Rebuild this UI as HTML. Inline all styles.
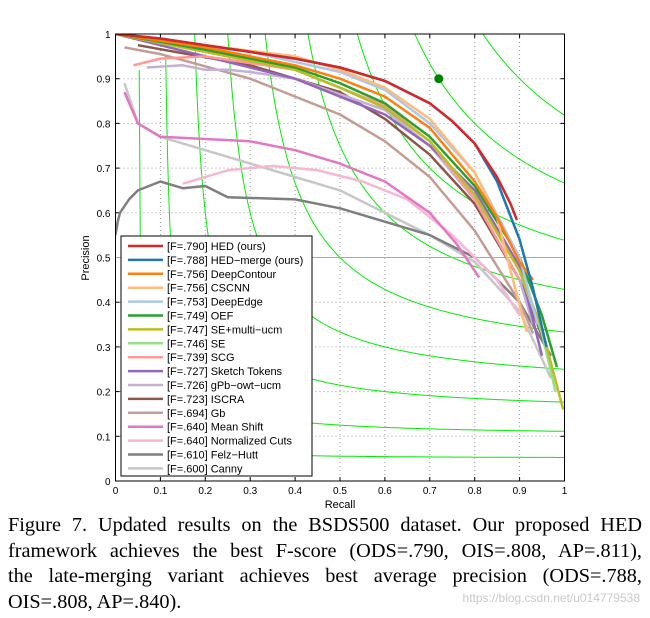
<!DOCTYPE html>
<html><head><meta charset="utf-8"><style>
body{margin:0;background:#fff;width:650px;height:618px;overflow:hidden;position:relative}
svg{position:absolute;left:0;top:0}
.cap{position:absolute;left:8px;top:513px;width:634px;font-family:"Liberation Serif",serif;font-size:20.3px;line-height:25.5px;color:#000}
.cap div{text-align:justify;text-align-last:justify;white-space:nowrap}
.cap div.last{text-align-last:left}
.wm{position:absolute;right:10px;top:591px;font-family:"Liberation Sans",sans-serif;font-size:12px;color:#c8c8c8}
</style></head><body>
<svg id="chart" width="650" height="512"></svg>
<div class="cap"><div>Figure 7. Updated results on the BSDS500 dataset. Our proposed HED</div><div>framework achieves the best F-score (ODS=.790, OIS=.808, AP=.811),</div><div>the late-merging variant achieves best average precision (ODS=.788,</div><div class="last">OIS=.808, AP=.840).</div></div>
<div class="wm">https://blog.csdn.net/u014779538</div>
<script>
const ticks=[0,0.1,0.2,0.3,0.4,0.5,0.6,0.7,0.8,0.9,1];
const tickLabels=["0","0.1","0.2","0.3","0.4","0.5","0.6","0.7","0.8","0.9","1"];
const isoLevels=[0.1,0.2,0.3,0.4,0.5,0.6,0.7,0.8,0.9];
const names=["[F=.790] HED (ours)","[F=.788] HED\u2212merge (ours)","[F=.756] DeepContour","[F=.756] CSCNN","[F=.753] DeepEdge","[F=.749] OEF","[F=.747] SE+multi\u2212ucm","[F=.746] SE","[F=.739] SCG","[F=.727] Sketch Tokens","[F=.726] gPb\u2212owt\u2212ucm","[F=.723] ISCRA","[F=.694] Gb","[F=.640] Mean Shift","[F=.640] Normalized Cuts","[F=.610] Felz\u2212Hutt","[F=.600] Canny"];
const colors=["#d62728","#1f77b4","#ff7f0e","#ffbb78","#aec7e8","#2ca02c","#bcbd22","#98df8a","#ff9896","#9467bd","#c5b0d5","#8c564b","#c49c94","#e377c2","#f7b6d2","#7f7f7f","#c7c7c7"];
const recall=[
[0,0.1,0.2,0.3,0.4,0.5,0.6,0.7,0.75,0.8,0.85,0.88,0.894],
[0,0.1,0.2,0.3,0.4,0.5,0.6,0.7,0.75,0.8,0.85,0.9,0.93,0.96],
[0,0.2,0.4,0.5,0.6,0.7,0.8,0.85,0.9,0.93],
[0,0.2,0.4,0.5,0.6,0.7,0.8,0.85,0.88,0.916],
[0,0.3,0.5,0.6,0.7,0.8,0.9,0.94],
[0,0.2,0.4,0.5,0.6,0.7,0.8,0.9,0.95,0.983],
[0,0.2,0.4,0.5,0.6,0.7,0.8,0.9,0.95,0.997],
[0,0.2,0.4,0.5,0.6,0.7,0.8,0.9,0.95,0.98],
[0.04,0.1,0.2,0.4,0.6,0.7,0.8,0.9],
[0,0.2,0.4,0.6,0.7,0.8,0.9,0.95],
[0.07,0.15,0.2,0.25,0.3,0.4,0.6,0.7,0.8,0.9,0.93],
[0.05,0.3,0.5,0.6,0.7,0.8,0.9,0.96],
[0.02,0.1,0.3,0.5,0.6,0.7,0.8,0.9,0.93],
[0.02,0.05,0.1,0.2,0.3,0.4,0.5,0.6,0.7,0.76,0.81],
[0.15,0.25,0.35,0.45,0.55,0.65,0.75,0.85,0.9],
[0,0.005,0.01,0.03,0.05,0.1,0.15,0.2,0.25,0.4,0.5,0.6,0.7,0.8,0.9,0.97],
[0.02,0.05,0.1,0.2,0.3,0.4,0.5,0.6,0.7,0.8,0.9,0.97]];
const precision=[
[1,0.99,0.975,0.96,0.945,0.925,0.895,0.845,0.805,0.755,0.68,0.62,0.584],
[1,0.99,0.975,0.96,0.945,0.925,0.895,0.845,0.805,0.755,0.67,0.54,0.43,0.3],
[1,0.97,0.93,0.9,0.86,0.79,0.67,0.59,0.49,0.45],
[1,0.975,0.95,0.92,0.88,0.81,0.69,0.59,0.47,0.333],
[1,0.96,0.915,0.875,0.8,0.69,0.5,0.35],
[1,0.965,0.925,0.89,0.845,0.77,0.66,0.5,0.37,0.255],
[1,0.96,0.92,0.88,0.835,0.76,0.64,0.47,0.34,0.16],
[1,0.96,0.92,0.88,0.835,0.76,0.64,0.47,0.33,0.2],
[0.93,0.945,0.95,0.92,0.84,0.76,0.63,0.45],
[1,0.95,0.9,0.82,0.75,0.65,0.48,0.28],
[0.925,0.93,0.92,0.92,0.915,0.9,0.83,0.75,0.63,0.45,0.35],
[0.975,0.93,0.87,0.81,0.73,0.62,0.45,0.3],
[0.97,0.955,0.9,0.82,0.76,0.68,0.56,0.4,0.33],
[0.87,0.8,0.77,0.765,0.76,0.74,0.71,0.67,0.6,0.53,0.455],
[0.665,0.695,0.705,0.695,0.67,0.63,0.55,0.45,0.37],
[0.55,0.58,0.6,0.63,0.65,0.67,0.655,0.66,0.635,0.63,0.61,0.58,0.55,0.5,0.4,0.28],
[0.89,0.8,0.77,0.74,0.71,0.68,0.65,0.6,0.55,0.49,0.38,0.23]];
const bestPoint=[0.72,0.90];
const NS="http://www.w3.org/2000/svg";
const svg=document.getElementById('chart');
const X0=115.5,X1=564.5,Y0=481,Y1=34;
const sx=v=>X0+v*(X1-X0), sy=v=>Y0-v*(Y0-Y1);
function mk(t,a,p){const e=document.createElementNS(NS,t);for(const k in a)e.setAttribute(k,a[k]);(p||svg).appendChild(e);return e;}
ticks.forEach((t,i)=>{
 if(i>0&&i<10){
  const g1=mk('line',{x1:sx(t),x2:sx(t),y1:Y1,y2:Y0,stroke:'#999','stroke-dasharray':'1 3','stroke-width':1});
  
  const g2=mk('line',{x1:X0,x2:X1,y1:sy(t),y2:sy(t),stroke:'#999','stroke-dasharray':'1 3','stroke-width':1});
  
 }
 const tx=mk('text',{x:sx(t),y:Y0+13,'text-anchor':'middle','font-size':10,'font-family':'Liberation Sans, sans-serif'});tx.textContent=tickLabels[i];
 
 const ty=mk('text',{x:X0-5,y:sy(t)+4,'text-anchor':'end','font-size':10,'font-family':'Liberation Sans, sans-serif'});ty.textContent=tickLabels[i];
 
 mk('line',{x1:sx(t),x2:sx(t),y1:Y0,y2:Y0-4,stroke:'#000'});mk('line',{x1:sx(t),x2:sx(t),y1:Y1,y2:Y1+4,stroke:'#000'});
 mk('line',{x1:X0,x2:X0+4,y1:sy(t),y2:sy(t),stroke:'#000'});mk('line',{x1:X1,x2:X1-4,y1:sy(t),y2:sy(t),stroke:'#000'});
});
const defs=mk('defs',{});const cp=mk('clipPath',{id:'clip'},defs);mk('rect',{x:X0,y:Y1,width:X1-X0,height:Y0-Y1},cp);
const plot=mk('g',{'clip-path':'url(#clip)'});
isoLevels.forEach(f=>{
 let d='';let first=true;
 for(let i=0;i<=400;i++){const r=f/2+0.0005+(1-f/2)*i/400;const p=f*r/(2*r-f);if(p>1.05)continue;d+=(first?'M':'L')+sx(r).toFixed(1)+','+sy(Math.min(p,1.05)).toFixed(1);first=false;}
 const e=mk('path',{d:d,fill:'none',stroke:'#00ee00','stroke-width':1},plot);
 
});
const hl=mk('line',{x1:X0,x2:X1,y1:sy(0.5),y2:sy(0.5),stroke:'#aaa','stroke-width':1},plot);

for(let s=names.length-1;s>=0;s--){
 const d=recall[s].map((r,i)=>(i?'L':'M')+sx(r).toFixed(1)+','+sy(precision[s][i]).toFixed(1)).join('');
 const e=mk('path',{d:d,fill:'none',stroke:colors[s],'stroke-width':2.5,'stroke-linejoin':'round'},plot);
 
}
const bp=mk('circle',{cx:sx(bestPoint[0]),cy:sy(bestPoint[1]),r:4.5,fill:'#008000'});

mk('rect',{x:X0,y:Y1,width:X1-X0,height:Y0-Y1,fill:'none',stroke:'#000','stroke-width':1});
const xl=mk('text',{x:(X0+X1)/2,y:508,'text-anchor':'middle','font-size':11,'font-family':'Liberation Sans, sans-serif'});xl.textContent='Recall';

const yl=mk('text',{x:0,y:0,'text-anchor':'middle','font-size':11,'font-family':'Liberation Sans, sans-serif',transform:'translate(89,258) rotate(-90)'});yl.textContent='Precision';

const lg=mk('g',{});
mk('rect',{x:121,y:236,width:191,height:240,fill:'#fff',stroke:'#000','stroke-width':1},lg);
names.forEach((n,i)=>{
 const y=246+i*13.9;
 const li=mk('line',{x1:128,x2:163,y1:y,y2:y,stroke:colors[i],'stroke-width':2.5},lg);
 
 const t=mk('text',{x:167,y:y+4,'font-size':11,'font-family':'Liberation Sans, sans-serif'},lg);t.textContent=n;
 
});
</script>
</body></html>
